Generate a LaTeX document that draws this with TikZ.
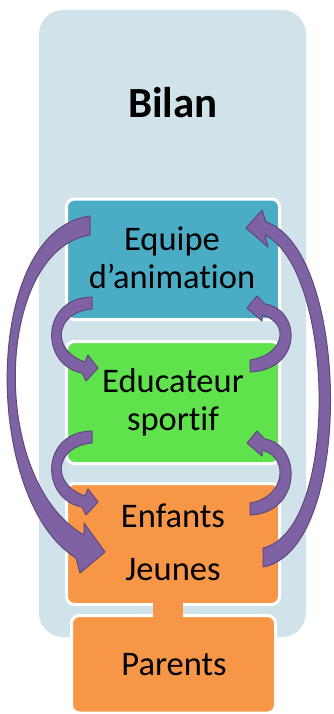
\documentclass[tikz,border=0pt]{standalone}
\usepackage{fontspec}
\setmainfont{Carlito}[Ligatures=NoCommon]
\definecolor{panelc}{HTML}{D1E3EA}
\definecolor{tealc}{HTML}{4BACC6}
\definecolor{greenc}{HTML}{5FE24B}
\definecolor{orangec}{HTML}{F79646}
\definecolor{arrowfill}{HTML}{7F62A3}
\definecolor{arrowline}{HTML}{5E497E}
\begin{document}
\begin{tikzpicture}[x=1pt,y=-1pt,
  boxc/.style={draw=white, line width=3pt, rounded corners=8pt, inner sep=0pt},
  lbl/.style={font=\fontsize{34.5}{37.5}\selectfont, align=center, inner sep=0pt, anchor=base},
  barrow/.style={fill=arrowfill, draw=arrowline, line width=1pt, line join=round}]
\useasboundingbox (0,0) rectangle (334,714);
\fill[panelc, rounded corners=24pt] (39,10) rectangle (306,637);
\node[font=\bfseries\fontsize{43}{50}\selectfont, inner sep=0pt, anchor=base] (bilan) at (173,118) {Bilan};
\node[boxc, fill=tealc, minimum width=213pt, minimum height=120.5pt] (eq) at (173,259.25) {};
\node[boxc, fill=greenc, minimum width=213pt, minimum height=122pt] (ed) at (173,402.5) {};
\node[boxc, fill=orangec, minimum width=213pt, minimum height=121pt] (en) at (173,544) {};
\node[boxc, fill=orangec, minimum width=204pt, minimum height=97.5pt] (pa) at (173.5,664.25) {};
\fill[orangec] (153,601) rectangle (183,619);
\node[lbl] (teq) at (172,288) {Equipe\\d’animation};
\node[lbl] (ted) at (173,430) {Educateur\\sportif};
\node[lbl] (ten1) at (173,527) {Enfants};
\node[lbl] (ten2) at (173,580) {Jeunes};
\node[lbl] (tpa) at (174,675) {Parents};
% big left arrow
\path[barrow] (90,235) .. controls (-5,250) and (-12,480) .. (84,535) -- (84,523) -- (105,552) -- (80,573) -- (76,558) .. controls (-18,500) and (-18,230) .. (90,216) -- cycle;
% big right arrow
\path[barrow] (263,548) .. controls (340,530) and (335,270) .. (265,235) -- (268,247) -- (246,228) -- (262,210) -- (266,222) .. controls (350,250) and (355,550) .. (263,567) -- cycle;
% small arrows left
\path[barrow] (92,309) .. controls (55,312) and (50,350) .. (85,362) -- (88,355) -- (98,368) -- (86,381) -- (82,373) .. controls (40,365) and (40,298) .. (92,297) -- cycle;
\path[barrow] (92,443) .. controls (55,446) and (50,484) .. (85,496) -- (88,489) -- (98,502) -- (86,515) -- (82,507) .. controls (40,499) and (40,432) .. (92,431) -- cycle;
% small arrows right
\path[barrow] (250,360) .. controls (285,355) and (290,322) .. (262,315) -- (262,321) -- (247,308) -- (257,296) -- (265,304) .. controls (302,310) and (302,370) .. (250,372) -- cycle;
\path[barrow] (250,503) .. controls (285,498) and (290,457) .. (262,450) -- (262,456) -- (247,443) -- (257,431) -- (265,439) .. controls (302,445) and (302,513) .. (250,515) -- cycle;
\end{tikzpicture}
\end{document}
